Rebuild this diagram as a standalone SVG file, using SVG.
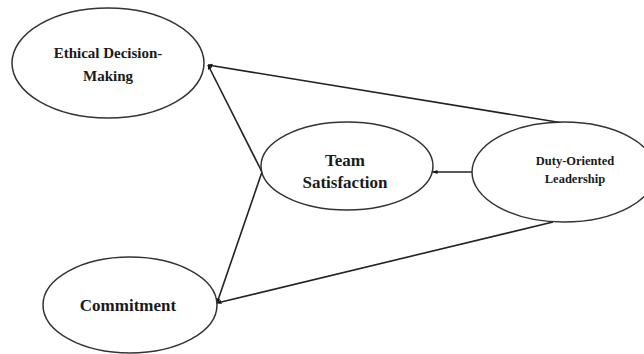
<svg xmlns="http://www.w3.org/2000/svg" width="644" height="354" viewBox="0 0 644 354">
<style>
.node ellipse{fill:#fff;stroke:#333;stroke-width:1.5}
.lbl{font-family:'Liberation Serif','DejaVu Serif',serif;font-weight:bold;fill:#1a1a1a;text-anchor:middle}
.edge{stroke:#222;stroke-width:1.6;fill:none;marker-end:url(#ah)}
</style>
<defs>
<marker id="ah" viewBox="0 0 10 10" refX="9" refY="5" markerWidth="5" markerHeight="5" orient="auto" markerUnits="userSpaceOnUse">
<path d="M0,1 L10,5 L0,9 Z" fill="#111"/>
</marker>
</defs>
<rect width="644" height="354" fill="#fff"/>
<g id="connectors">
<path class="edge" d="M563,123 L208,65"/>
<path class="edge" d="M262,172 L208,65"/>
<path class="edge" d="M262,172 L217,303"/>
<path class="edge" d="M553,222 L217,303"/>
<path class="edge" d="M472,172 L433,172"/>
</g>
<g id="ethical" class="node">
<ellipse cx="108" cy="63" rx="96" ry="55"/>
<text class="lbl" x="108" y="58" font-size="15">Ethical Decision-</text>
<text class="lbl" x="108" y="81" font-size="15">Making</text>
</g>
<g id="team" class="node">
<ellipse cx="347" cy="166" rx="86" ry="44"/>
<text class="lbl" x="345" y="166" font-size="17">Team</text>
<text class="lbl" x="345" y="188" font-size="17">Satisfaction</text>
</g>
<g id="duty" class="node">
<ellipse cx="564" cy="172" rx="92" ry="50"/>
<text class="lbl" x="575" y="165" font-size="12.5">Duty-Oriented</text>
<text class="lbl" x="575" y="183" font-size="12.5">Leadership</text>
</g>
<g id="commitment" class="node">
<ellipse cx="130" cy="305" rx="87" ry="48"/>
<text class="lbl" x="128" y="311" font-size="17">Commitment</text>
</g>
</svg>
